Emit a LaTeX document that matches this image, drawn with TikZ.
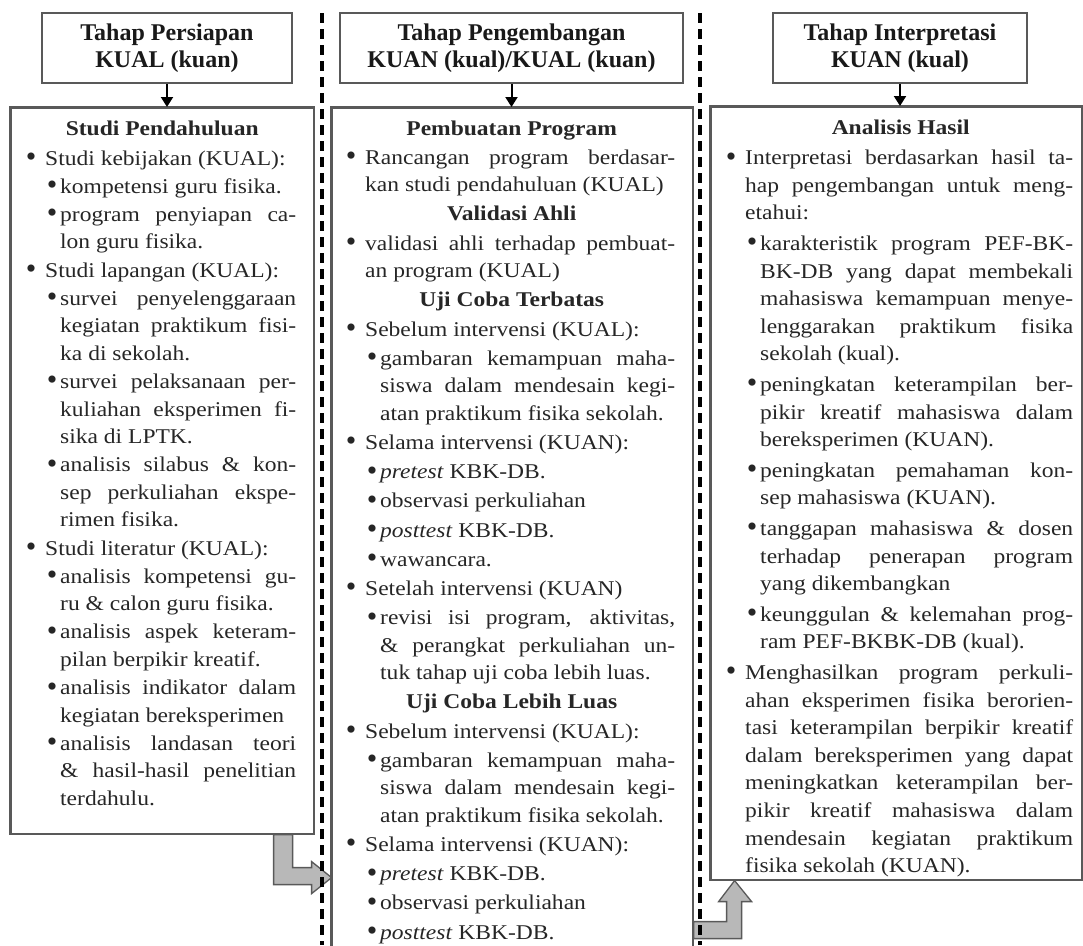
\documentclass[tikz,border=0pt]{standalone}
\usepackage{fontspec}
\setmainfont{Liberation Serif}[FakeStretch=1.12]
\newfontfamily\hdfont{Liberation Serif}
\usetikzlibrary{arrows.meta,calc}
\newdimen\WA \newdimen\WB \newdimen\ig
\newcommand\bul{\raisebox{-1.5pt}{\hdfont\fontsize{30}{0}\selectfont\textbullet}}
\newcommand\Hf[1]{\hbox to\WA{\hss\textbf{#1}\hss\hskip17pt}}
\newcommand\Hd[1]{\vskip\ig\Hf{#1}}
\newcommand\Aj[1]{\vskip\ig\hbox{\llap{\hbox to0pt{\hss\bul\hss}\hskip14pt}\hbox to\WA{#1}}}
\newcommand\Al[1]{\vskip\ig\hbox{\llap{\hbox to0pt{\hss\bul\hss}\hskip14pt}#1}}
\newcommand\aj[1]{\hbox to\WA{#1}}
\newcommand\al[1]{\hbox{#1}}
\newcommand\Bj[1]{\vskip\ig\hbox{\hskip15pt\llap{\hbox to0pt{\hss\bul\hss}\hskip8pt}\hbox to\WB{#1}}}
\newcommand\Bl[1]{\vskip\ig\hbox{\hskip15pt\llap{\hbox to0pt{\hss\bul\hss}\hskip8pt}#1}}
\newcommand\bj[1]{\hbox{\hskip15pt\hbox to\WB{#1}}}
\newcommand\bl[1]{\hbox{\hskip15pt #1}}
\begin{document}
\begin{tikzpicture}[x=1pt,y=-1pt,
 frame/.style={draw=black!65, line width=1.6pt, inner sep=0pt},
 hdr/.style={frame, align=center, font=\hdfont\fontsize{24}{27}\selectfont\bfseries, text=black!90},
 downarr/.style={draw=black, line width=2pt, -{Triangle[length=10pt,width=12pt]}},
 blockarr/.style={draw=black!65, fill=black!28, line width=1.3pt, line join=miter},
 sepline/.style={draw=black, line width=3.2pt, dash pattern=on 10pt off 6pt},
 body/.style={anchor=base west, inner sep=0pt, text=black!85}]
\useasboundingbox (0,0) rectangle (1083,945);
% header boxes
\node[hdr, minimum width=250pt, minimum height=70pt] (h1) at (167,48) {Tahap Persiapan\\KUAL (kuan)};
\node[hdr, minimum width=343pt, minimum height=70pt] (h2) at (511.5,48) {Tahap Pengembangan\\KUAN (kual)/KUAL (kuan)};
\node[hdr, minimum width=254pt, minimum height=70pt] (h3) at (900,48) {Tahap Interpretasi\\KUAN (kual)};
% frames
\node[frame, anchor=north west, minimum width=303pt, minimum height=726pt] (b1) at (10,107) {};
\node[frame, anchor=north west, minimum width=361pt, minimum height=860pt] (b2) at (331,107) {};
\node[frame, anchor=north west, minimum width=371pt, minimum height=773pt] (b3) at (710,106) {};
% block arrows
\draw[blockarr] ($(b1.south east)+(-41,0)$) -- ++(0,50) -- ++(38,0) -- ++(0,9) -- ++(20,-16) -- ++(-20,-16) -- ++(0,6) -- ++(-19,0) -- ++(0,-33) -- cycle;
\draw[blockarr] ($(b2.east |- b3.south)+(0,58)$) -- ++(48,0) -- ++(0,-37) -- ++(10,0) -- ++(-17,-21) -- ++(-16,21) -- ++(8,0) -- ++(0,20) -- ++(-33,0) -- cycle;
% redraw frame edges over arrows
\draw[frame] (b1.north west) rectangle (b1.south east);
\draw[frame] (b2.south west) |- (b2.north east) -- (b2.south east);
\draw[frame] (b3.north west) rectangle (b3.south east);
% down arrows
\draw[downarr] (h1.south) -- (h1.south |- b1.north);
\draw[downarr] (h2.south) -- (h2.south |- b2.north);
\draw[downarr] (h3.south) -- (h3.south |- b3.north);
% dashed separators
\coordinate (s1t) at (322,13); \coordinate (s1b) at (322,945);
\coordinate (s2t) at (700,13); \coordinate (s2b) at (700,945);
\draw[sepline] (s1t) -- (s1b);
\draw[sepline] (s2t) -- (s2b);
% contents
\node[body] (c1) at (45,135) {\vtop{\fontsize{21}{27.6}\selectfont\WA=251pt\WB=236pt\ig=0.5pt
\Hf{Studi Pendahuluan}\vskip2pt
\Al{Studi kebijakan (KUAL):}
\Bl{kompetensi guru fisika.}
\Bj{program penyiapan ca-}
\bl{lon guru fisika.}
\Al{Studi lapangan (KUAL):}
\Bj{survei penyelenggaraan}
\bj{kegiatan praktikum fisi-}
\bl{ka di sekolah.}
\Bj{survei pelaksanaan per-}
\bj{kuliahan eksperimen fi-}
\bl{sika di LPTK.}
\Bj{analisis silabus \& kon-}
\bj{sep perkuliahan ekspe-}
\bl{rimen fisika.}
\Al{Studi literatur (KUAL):}
\Bj{analisis kompetensi gu-}
\bl{ru \& calon guru fisika.}
\Bj{analisis aspek keteram-}
\bl{pilan berpikir kreatif.}
\Bj{analisis indikator dalam}
\bl{kegiatan bereksperimen}
\Bj{analisis landasan teori}
\bj{\& hasil-hasil penelitian}
\bl{terdahulu.}
}};
\node[body] (c2) at (365,135) {\vtop{\fontsize{21}{27.5}\selectfont\WA=310pt\WB=295pt\ig=1.7pt
\Hf{Pembuatan Program}
\Aj{Rancangan program berdasar-}
\al{kan studi pendahuluan (KUAL)}
\Hd{Validasi Ahli}
\Aj{validasi ahli terhadap pembuat-}
\al{an program (KUAL)}
\Hd{Uji Coba Terbatas}
\Al{Sebelum intervensi (KUAL):}
\Bj{gambaran kemampuan maha-}
\bj{siswa dalam mendesain kegi-}
\bl{atan praktikum fisika sekolah.}
\Al{Selama intervensi (KUAN):}
\Bl{\textit{pretest} KBK-DB.}
\Bl{observasi perkuliahan}
\Bl{\textit{posttest} KBK-DB.}
\Bl{wawancara.}
\Al{Setelah intervensi (KUAN)}
\Bj{revisi isi program, aktivitas,}
\bj{\& perangkat perkuliahan un-}
\bl{tuk tahap uji coba lebih luas.}
\Hd{Uji Coba Lebih Luas}
\Al{Sebelum intervensi (KUAL):}
\Bj{gambaran kemampuan maha-}
\bj{siswa dalam mendesain kegi-}
\bl{atan praktikum fisika sekolah.}
\Al{Selama intervensi (KUAN):}
\Bl{\textit{pretest} KBK-DB.}
\Bl{observasi perkuliahan}
\Bl{\textit{posttest} KBK-DB.}
}};
\node[body] (c3) at (745,134) {\vtop{\fontsize{21}{27.6}\selectfont\WA=328pt\WB=313pt\ig=3pt
\Hf{Analisis Hasil}
\Aj{Interpretasi berdasarkan hasil ta-}
\aj{hap pengembangan untuk meng-}
\al{etahui:}
\Bj{karakteristik program PEF-BK-}
\bj{BK-DB yang dapat membekali}
\bj{mahasiswa kemampuan menye-}
\bj{lenggarakan praktikum fisika}
\bl{sekolah (kual).}
\Bj{peningkatan keterampilan ber-}
\bj{pikir kreatif mahasiswa dalam}
\bl{bereksperimen (KUAN).}
\Bj{peningkatan pemahaman kon-}
\bl{sep mahasiswa (KUAN).}
\Bj{tanggapan mahasiswa \& dosen}
\bj{terhadap penerapan program}
\bl{yang dikembangkan}
\Bj{keunggulan \& kelemahan prog-}
\bl{ram PEF-BKBK-DB (kual).}
\Aj{Menghasilkan program perkuli-}
\aj{ahan eksperimen fisika berorien-}
\aj{tasi keterampilan berpikir kreatif}
\aj{dalam bereksperimen yang dapat}
\aj{meningkatkan keterampilan ber-}
\aj{pikir kreatif mahasiswa dalam}
\aj{mendesain kegiatan praktikum}
\al{fisika sekolah (KUAN).}
}};
\end{tikzpicture}
\end{document}
